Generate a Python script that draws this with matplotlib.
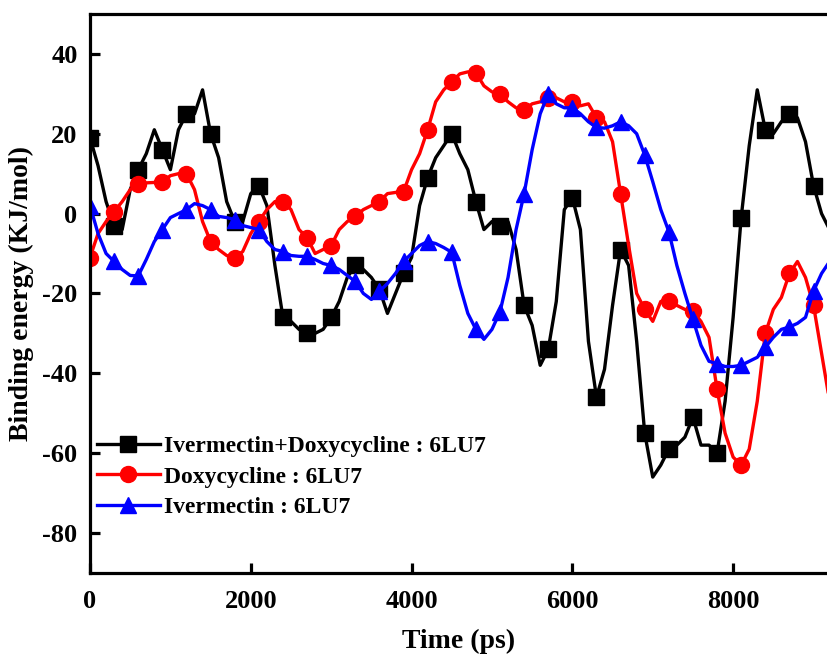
import numpy as np
import matplotlib.pyplot as plt

# Time axis (ps), sampled every 100 ps
time_ps = np.arange(0, 9300, 100)

# Binding energies (KJ/mol)
combo = [19, 12, 3, -3, -4, 6, 11, 15, 21, 16,
         11, 21, 25, 25, 31, 20, 14, 3, -2, -2,
         5, 7, 2, -13, -26, -27, -29, -30, -30, -29,
         -26, -22, -16, -13, -14, -16, -19, -25, -20, -15,
         -11, 2, 9, 14, 17, 20, 15, 11, 3, -4,
         -2, -3, -2, -9, -23, -28, -38, -34, -22, 1,
         4, -4, -32, -46, -39, -23, -9, -13, -32, -55,
         -66, -63, -59, -58, -56, -51, -58, -58, -60, -47,
         -26, -1, 17, 31, 21, 20, 23, 25, 24, 18,
         7, 0, -4]

doxy = [-11, -5, -2, 0.5, 3, 6, 7.5, 7.7, 7.8, 8,
        9.5, 10, 10, 6, -2, -7, -9, -10.5, -11, -9.5,
        -5, -2, 1, 3, 3, 1, -4, -6, -10, -9,
        -8, -4, -2, -0.7, 1, 2, 3, 5, 5.3, 5.5,
        11, 15, 21, 28, 31, 33, 35, 35.5, 35.3, 32,
        30.5, 30, 28, 26.5, 26, 27.5, 28, 29, 29, 28,
        28, 27, 27.5, 24, 23, 18, 5, -8, -20, -24,
        -27, -22, -22, -23, -24, -24.5, -27, -31, -44, -55,
        -61, -63, -59, -47, -30, -24, -21, -15, -12, -16,
        -23, -35, -47]

iver = [2, -5, -10, -12, -14, -15.5, -15.6, -11.5, -7, -4,
        -1, 0, 1, 2.5, 2, 1, -0.7, -1, -1.5, -3,
        -3.5, -4, -7, -9, -9.5, -10.5, -10.7, -10.7, -11.5, -12.5,
        -13, -14, -15.5, -17, -20, -21.5, -19.5, -17.5, -15, -12,
        -10, -8, -7, -7.5, -8.5, -9.7, -18, -25, -29, -31.5,
        -29, -24.6, -16, -4, 5, 16, 25, 30, 27.5, 26.5,
        26.5, 25, 23, 21.6, 21.4, 22, 23, 22, 20, 14.7,
        8, 1, -4.5, -13, -20, -26.5, -33, -37, -37.6, -38.3,
        -38.3, -38, -37, -36, -33.5, -31, -29, -28.4, -27.5, -26,
        -19.4, -15, -12]

labels = ['Ivermectin+Doxycycline : 6LU7', 'Doxycycline : 6LU7', 'Ivermectin : 6LU7']

plt.rcParams['font.family'] = ['Liberation Serif', 'DejaVu Serif']
plt.rcParams['font.weight'] = 'bold'
plt.rcParams['axes.unicode_minus'] = False

fig = plt.figure(figsize=(8.28, 6.6), dpi=100)
ax = fig.add_axes([0.1087, 0.132, 0.8913, 0.8468])

ax.plot(time_ps, combo, color='black', lw=2.4, marker='s', ms=11,
        markevery=3, label=labels[0])
ax.plot(time_ps, doxy, color='red', lw=2.4, marker='o', ms=11.5,
        markevery=3, label=labels[1])
ax.plot(time_ps, iver, color='blue', lw=2.4, marker='^', ms=11,
        markevery=3, label=labels[2])

ax.set_xlim(0, 9180)
ax.set_ylim(-90, 50)
ax.set_xticks([0, 2000, 4000, 6000, 8000])
ax.set_yticks([-80, -60, -40, -20, 0, 20, 40])

ax.spines['right'].set_visible(False)
for s in ['left', 'top', 'bottom']:
    ax.spines[s].set_linewidth(2.3)
ax.tick_params(direction='in', length=7, width=2.3, labelsize=19, pad=9)
ax.tick_params(axis='x', pad=12)
for lbl in ax.get_xticklabels() + ax.get_yticklabels():
    lbl.set_fontweight('bold')

ax.set_xlabel('Time (ps)', fontsize=20, fontweight='bold', labelpad=12)
ax.set_ylabel('Binding energy (KJ/mol)', fontsize=20, fontweight='bold', labelpad=6)

ax.legend(loc='upper left', bbox_to_anchor=(0.0095, 0.246), frameon=False,
          prop={'size': 17, 'weight': 'bold'}, handlelength=2.65,
          handletextpad=0.2, labelspacing=0.39, borderpad=0, borderaxespad=0)

fig.savefig('out.png', dpi=100)
